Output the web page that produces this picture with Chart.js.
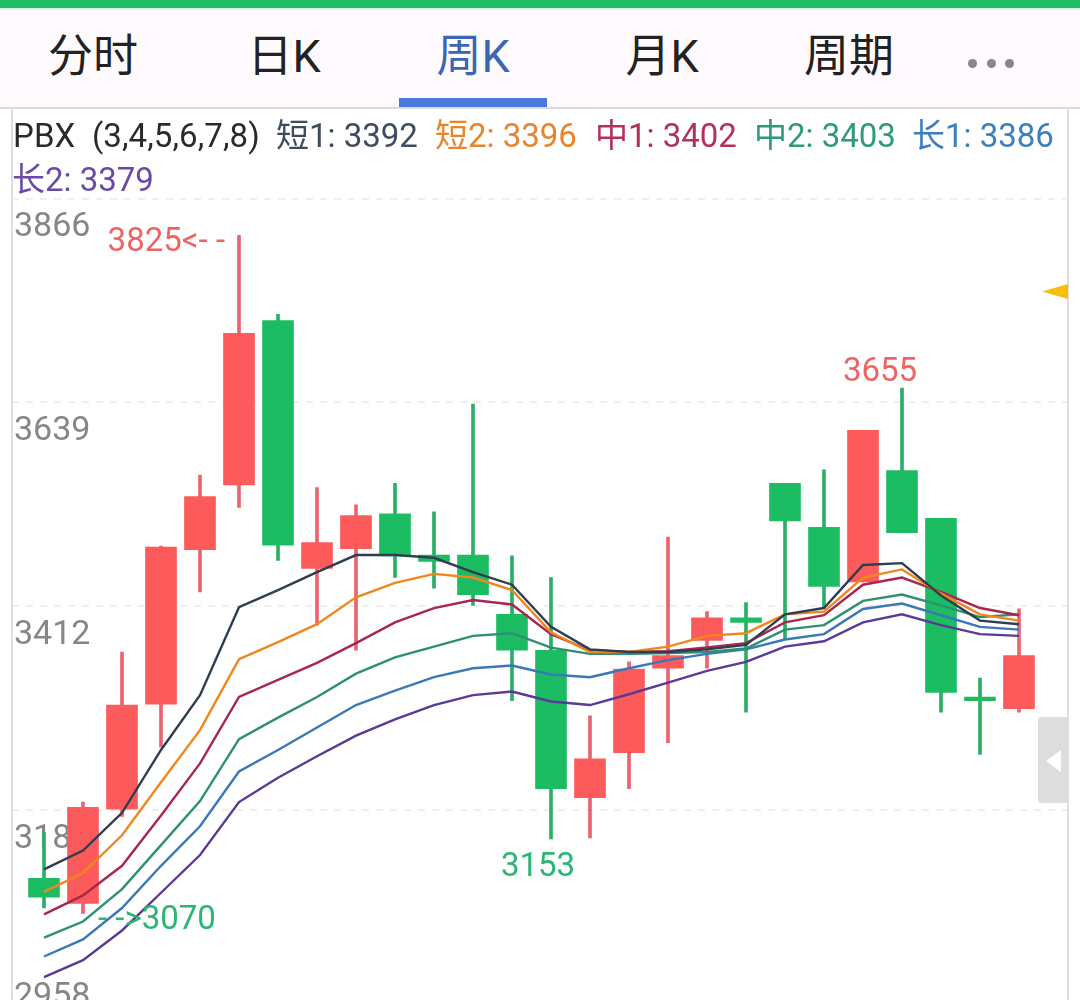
<!DOCTYPE html>
<html lang="zh">
<head>
<meta charset="utf-8">
<script src="https://cdn.jsdelivr.net/npm/chart.js@4/dist/chart.umd.min.js"></script>
<style>
html,body{margin:0;padding:0;width:1080px;height:1000px;overflow:hidden;background:#fff;font-family:Roboto,"Noto Sans CJK SC",sans-serif}
#stage{position:relative;width:1080px;height:1000px;overflow:hidden}
#c{position:absolute;left:0;top:0}
.abs{position:absolute}
#bar{left:0;top:0;width:1080px;height:8px;background:#1ebc64}
#bar2{left:0;top:8px;width:1080px;height:2px;background:#d9f3e6}
#head{left:0;top:10px;width:1080px;height:97px;background:#fefafd}
#rule{left:0;top:107px;width:1080px;height:2px;background:#dcdcdc}
#fl{left:11px;top:109px;width:2px;height:891px;background:#dedede}
#fr{left:1067px;top:109px;width:2px;height:891px;background:#dedede}
.tab{top:30px;font-size:45px;line-height:54px;color:#222;transform:translateX(-50%);white-space:nowrap}
.tab.on{color:#3a66b4}
#under{left:399px;top:98px;width:148px;height:9px;background:#4a78dc}
.dot{top:58.5px;width:9px;height:9px;border-radius:50%;background:#8a8488}
.lg{font-size:33px;line-height:40px;white-space:pre}
#flag{left:1042px;top:284px;width:26px;height:15px;background:#f7bf0c;clip-path:polygon(0 50%,100% 0,100% 100%)}
#handle{left:1038px;top:717px;width:30px;height:86px;background:#dddddd;border-radius:4px 0 0 4px}
#handle i{position:absolute;left:8px;top:33px;width:15px;height:22px;background:#fff;clip-path:polygon(0 50%,100% 0,100% 100%)}
</style>
</head>
<body>
<div id="stage">
<canvas id="c" width="1080" height="1040" style="width:1080px;height:1040px"></canvas>
<div class="abs" id="head"></div>
<div class="abs" id="bar"></div>
<div class="abs" id="bar2"></div>
<div class="abs" id="rule"></div>
<div class="abs" id="fl"></div>
<div class="abs" id="fr"></div>
<div class="abs tab" style="left:93px">分时</div>
<div class="abs tab" style="left:284px">日K</div>
<div class="abs tab on" style="left:473px">周K</div>
<div class="abs tab" style="left:662px">月K</div>
<div class="abs tab" style="left:849px">周期</div>
<div class="abs" id="under"></div>
<div class="abs dot" style="left:968px"></div>
<div class="abs dot" style="left:987px"></div>
<div class="abs dot" style="left:1005px"></div>
<div class="abs lg" style="left:13px;top:116px;color:#2a2a2a;letter-spacing:.1px">PBX  (3,4,5,6,7,8)</div>
<div class="abs lg" style="left:276px;top:116px;color:#3f4c5f">短1: 3392</div>
<div class="abs lg" style="left:435px;top:116px;color:#e8842c">短2: 3396</div>
<div class="abs lg" style="left:595px;top:116px;color:#b2305a">中1: 3402</div>
<div class="abs lg" style="left:754px;top:116px;color:#2e9a7c">中2: 3403</div>
<div class="abs lg" style="left:912px;top:116px;color:#3b7fbd">长1: 3386</div>
<div class="abs lg" style="left:12px;top:160px;color:#6a4aa6">长2: 3379</div>
<div class="abs" id="flag"></div>
<div class="abs" id="handle"><i></i></div>
</div>
<script>
const weeks = [0,1,2,3,4,5,6,7,8,9,10,11,12,13,14,15,16,17,18,19,20,21,22,23,24,25];
const openPrices  = [3109,3081,3186,3303,3475,3547,3730,3454,3476,3515,3469,3469,3403,3363,3199,3249,3343,3374,3399,3549,3500,3439,3563,3510,3311,3298];
const closePrices = [3088,3188,3302,3478,3534,3716,3480,3483,3513,3468,3462,3425,3363,3209,3242,3342,3357,3399,3394,3507,3434,3608,3494,3316,3307,3357];
const highPrices  = [3160,3194,3361,3479,3558,3825,3737,3544,3525,3549,3517,3637,3468,3444,3290,3350,3489,3406,3416,3549,3564,3608,3655,3510,3332,3409];
const lowPrices   = [3076,3070,3178,3255,3428,3522,3463,3391,3363,3444,3432,3413,3307,3153,3154,3209,3260,3343,3294,3376,3410,3439,3494,3294,3247,3294];
const short1 = [3119,3140,3182,3252,3313,3411,3430,3450,3469,3469,3466,3450,3436,3389,3364,3361,3361,3364,3369,3403,3410,3458,3460,3424,3396,3392];
const short2 = [3094,3115,3157,3216,3274,3353,3372,3392,3422,3438,3448,3444,3430,3383,3361,3361,3367,3379,3382,3403,3406,3444,3453,3426,3403,3396];
const mid1   = [3069,3090,3123,3179,3237,3311,3330,3349,3371,3394,3410,3419,3414,3381,3363,3361,3362,3366,3371,3394,3402,3436,3444,3428,3410,3402];
const mid2   = [3043,3061,3097,3146,3195,3264,3288,3311,3337,3355,3367,3379,3382,3366,3359,3359,3360,3361,3365,3386,3391,3418,3425,3413,3400,3403];
const long1  = [3022,3041,3076,3123,3167,3228,3252,3277,3302,3318,3333,3343,3346,3336,3333,3343,3352,3359,3364,3375,3381,3409,3415,3402,3389,3386];
const long2  = [2999,3018,3051,3093,3135,3194,3221,3245,3268,3286,3302,3313,3317,3306,3302,3314,3327,3340,3350,3367,3373,3394,3403,3391,3381,3379];
const yTicks = [3866,3639,3412,3185,2958];

const RED='#fd5b5b', GREEN='#1cbd62', WICK_RED='#e9646f', WICK_GREEN='#2bae66';
const isUp = i => closePrices[i] >= openPrices[i];
const pts = (a,b) => weeks.map((w,i)=>({x:w,y:[a[i],b[i]]}));
const line = (label,data,color) => ({type:'line',label,data:weeks.map((w,i)=>({x:w,y:data[i]})),borderColor:color,borderWidth:2.4,pointRadius:0,tension:0,order:0,fill:false});

const notes = [
  {i:5, v:highPrices[5], text:'3825<- -', color:'#ee6464', align:'right', dx:-14, dy:7},
  {i:22, v:highPrices[22], text:'3655', color:'#ee6464', align:'center', dx:-22, dy:-15},
  {i:13, v:lowPrices[13], text:'3153', color:'#2bb673', align:'center', dx:-13, dy:29},
  {i:1, v:lowPrices[1], text:'- ->3070', color:'#2bb673', align:'left', dx:15, dy:7}
];
const notePlugin = {
  id:'notes',
  afterDatasetsDraw(chart){
    const {ctx,scales:{x,y}} = chart;
    ctx.save();
    ctx.font = '33px Roboto,"Noto Sans CJK SC",sans-serif';
    ctx.textBaseline = 'middle';
    notes.forEach(n=>{
      ctx.fillStyle = n.color;
      ctx.textAlign = n.align;
      ctx.fillText(n.text, x.getPixelForValue(n.i)+n.dx, y.getPixelForValue(n.v)+n.dy);
    });
    ctx.restore();
  }
};

new Chart(document.getElementById('c'),{
  type:'bar',
  data:{datasets:[
    line('短1',short1,'#2f3e4e'),
    line('短2',short2,'#f0871e'),
    line('中1',mid1,'#a8264f'),
    line('中2',mid2,'#2f8f72'),
    line('长1',long1,'#3a78b8'),
    line('长2',long2,'#5a3a96'),
    {label:'body',data:pts(openPrices,closePrices),grouped:false,barThickness:31,borderWidth:0,order:1,
     backgroundColor:weeks.map((w,i)=>isUp(i)?RED:GREEN)},
    {label:'wick',data:pts(lowPrices,highPrices),grouped:false,barThickness:3,borderWidth:0,order:2,
     backgroundColor:weeks.map((w,i)=>isUp(i)?WICK_RED:WICK_GREEN)}
  ]},
  options:{
    responsive:false,animation:false,devicePixelRatio:1,
    layout:{padding:{left:12,right:12,top:198.5,bottom:26}},
    plugins:{legend:{display:false},tooltip:{enabled:false}},
    scales:{
      x:{type:'linear',display:false,offset:false,min:-0.8205,max:26.2564},
      y:{
        min:2958,max:3866,
        afterBuildTicks(s){s.ticks=yTicks.map(v=>({value:v}));},
        afterFit(s){s.width=0;},
        border:{display:false,dash:[7,7]},
        grid:{color:'#efefef',lineWidth:2,drawTicks:false},
        ticks:{
          mirror:true,padding:2,labelOffset:29,autoSkip:false,maxRotation:0,
          color:'#868686',font:{family:'Roboto,"Noto Sans CJK SC",sans-serif',size:34,lineHeight:1.35},
          callback:v=>v===2958?['2958','','']:String(v)
        }
      }
    }
  },
  plugins:[notePlugin]
});
</script>
</body>
</html>
